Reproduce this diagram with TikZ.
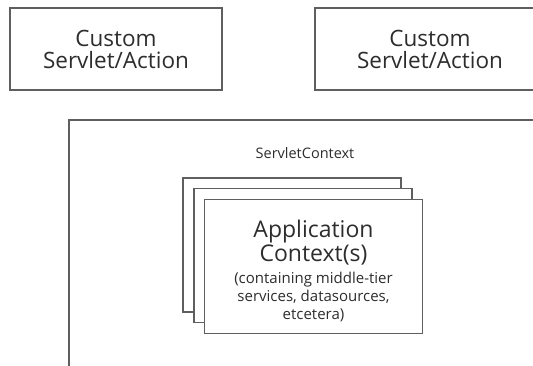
\documentclass[tikz,border=0pt]{standalone}
\usepackage{fontspec}
\setmainfont{Open Sans}
\usetikzlibrary{positioning}
\definecolor{boxline}{RGB}{95,95,95}
\definecolor{boxtext}{RGB}{45,45,45}
\newcommand*{\bigtext}{\fontsize{22.5}{22}\selectfont}
\newcommand*{\titletext}{\fontsize{23}{24}\selectfont}
\newcommand*{\notetext}{\fontsize{15}{18}\selectfont}
\tikzset{
   box/.style  = {draw=boxline, line width=1.4pt, fill=white,
                  text=boxtext, align=center, inner sep=0pt},
   action/.style = {box, minimum height=82pt, font=\bigtext},
   card/.style = {box, minimum width=218pt, minimum height=134pt},
   words/.style = {text=boxtext, align=center, inner sep=0pt}
}

\begin{document}
\begin{tikzpicture}[x=1pt,y=1pt]
   \useasboundingbox (0,0) rectangle (533,365);
   \clip (0,0) rectangle (533,365);

   % the two servlets on top
   \node[action, minimum width=212pt] (servletA) at (116,316)
      {Custom\\Servlet/Action};
   \node[action, minimum width=230pt] (servletB) at (430,316)
      {Custom\\Servlet/Action};

   % servlet context, runs off the page
   \draw[draw=boxline, line width=1.4pt] (69,-10) rectangle (545,245);
   \node[words, font=\fontsize{14.5}{15}\selectfont] (sclabel)
      at (305,212) {ServletContext};

   % stack of application contexts
   \node[card] (ctxA) at (292,120) {};
   \node[card] (ctxB) at ([shift={(11,-10.5)}]ctxA.center) {};
   \node[card] (ctxC) at ([shift={(10.5,-11)}]ctxB.center) {};
   \node[words, font=\titletext] (ctxtitle) at (313.5,122)
      {Application\\Context(s)};
   \node[words, font=\notetext, below=6pt of ctxtitle] (ctxnote)
      {(containing middle-tier\\services, datasources,\\etcetera)};
\end{tikzpicture}
\end{document}
